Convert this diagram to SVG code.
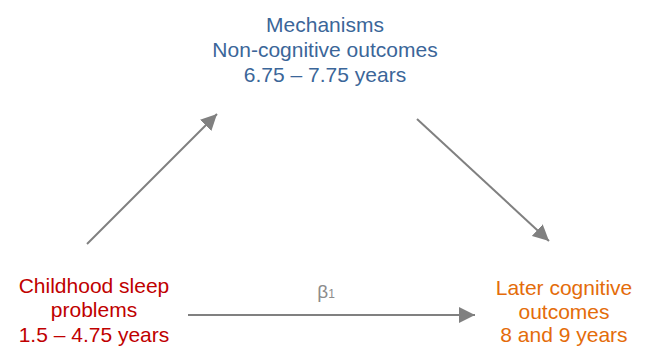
<svg xmlns="http://www.w3.org/2000/svg" width="648" height="346" viewBox="0 0 648 346">
  <style>
    text { font-family: "Liberation Sans", Arial, sans-serif; font-size: 21px; text-anchor: middle; }
    .mech { fill: #3B6699; }
    .sleep { fill: #C00000; }
    .cog { fill: #E46C0A; }
    .beta { fill: #8C8C8C; font-size: 19px; }
    .link { stroke: #808080; stroke-width: 2; fill: none; marker-end: url(#head); }
  </style>
  <defs>
    <marker id="head" markerUnits="userSpaceOnUse" markerWidth="18" markerHeight="16" refX="16" refY="8" orient="auto">
      <path d="M0,0 L16,8 L0,16 Z" fill="#808080"/>
    </marker>
  </defs>
  <rect width="648" height="346" fill="#FFFFFF"/>

  <g id="connectors">
    <line class="link" x1="87" y1="244" x2="217" y2="114"/>
    <line class="link" x1="417" y1="119" x2="549" y2="241"/>
    <line class="link" x1="188" y1="315" x2="475" y2="315"/>
    <text class="beta" x="326" y="298">β<tspan font-size="12" dy="0">1</tspan></text>
  </g>

  <g id="mechanisms">
    <text class="mech" x="325" y="32">Mechanisms</text>
    <text class="mech" x="325" y="57">Non-cognitive outcomes</text>
    <text class="mech" x="325" y="82">6.75 – 7.75 years</text>
  </g>

  <g id="sleep">
    <text class="sleep" x="94" y="293">Childhood sleep</text>
    <text class="sleep" x="94" y="317">problems</text>
    <text class="sleep" x="94" y="342">1.5 – 4.75 years</text>
  </g>

  <g id="cognitive">
    <text class="cog" x="564" y="295">Later cognitive</text>
    <text class="cog" x="564" y="319">outcomes</text>
    <text class="cog" x="564" y="342">8 and 9 years</text>
  </g>
</svg>
